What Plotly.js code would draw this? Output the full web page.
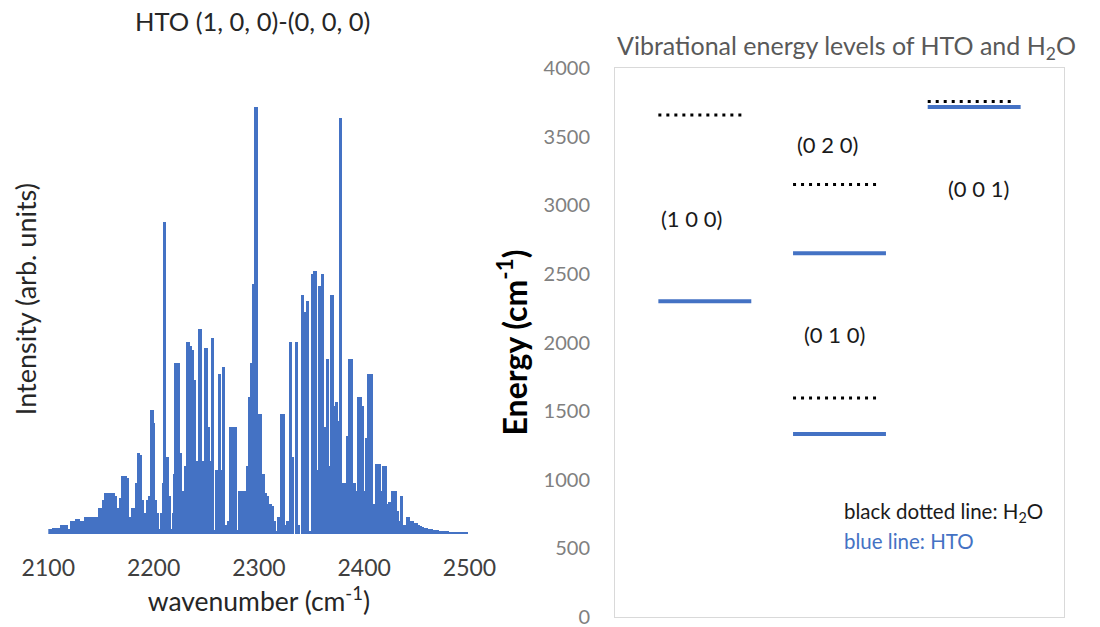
<!DOCTYPE html>
<html><head><meta charset="utf-8">
<script src="https://cdn.plot.ly/plotly-3.0.1.min.js"></script>
<style>html,body{margin:0;padding:0;background:#fff}#chart{width:1100px;height:627px}</style>
</head><body><div id="chart"></div>
<script>
// ---------- Left panel: HTO (1,0,0)-(0,0,0) stick spectrum ----------
const wavenumbers = [
2100.0,2101.8,2103.6,2105.4,2107.3,2109.2,2111.1,2113.0,2114.9,2116.8,2119.7,2122.0,2124.0,2126.4,2128.2,2130.1,2132.0,2133.9,2135.8,2137.7,
2139.6,2141.5,2143.2,2144.9,2146.8,2148.6,2150.5,2152.3,2154.0,2155.8,2157.8,2159.6,2161.5,2163.4,2165.2,2167.1,2169.0,2170.9,2172.8,2174.7,
2176.6,2178.5,2180.4,2182.3,2183.8,2185.5,2187.3,2189.1,2190.9,2192.8,2194.7,2196.6,2198.5,2200.2,2202.0,2204.0,2205.9,2207.8,2209.0,2210.4,
2212.7,2214.6,2216.5,2218.5,2219.6,2221.3,2223.2,2225.1,2227.0,2228.9,2230.8,2232.7,2234.6,2236.5,2238.4,2240.3,2242.2,2244.1,2246.2,2247.9,
2249.8,2251.7,2253.6,2255.7,2257.9,2260.2,2262.6,2264.5,2266.6,2268.7,2271.0,2273.5,2275.6,2277.6,2279.7,2281.8,2283.8,2285.8,2287.6,2289.2,
2291.0,2293.0,2295.2,2297.3,2299.3,2301.5,2303.9,2306.0,2308.3,2310.6,2312.7,2314.8,2316.9,2319.1,2321.2,2323.6,2325.8,2327.6,2330.3,2332.3,
2335.5,2338.0,2341.3,2343.6,2346.4,2348.9,2350.9,2353.2,2355.6,2358.0,2360.7,2362.8,2364.8,2367.1,2369.4,2371.8,2373.7,2375.6,2377.8,2379.9,
2381.8,2383.8,2386.3,2388.3,2390.3,2392.3,2394.6,2396.5,2398.2,2400.3,2402.6,2404.6,2406.5,2408.4,2410.3,2412.2,2414.1,2416.3,2418.6,2420.6,
2422.6,2424.5,2427.2,2429.2,2431.2,2433.2,2435.3,2437.3,2439.5,2441.6,2443.5,2445.4,2447.3,2449.5,2451.5,2453.5,2455.5,2457.5,2459.5,2461.5,
2463.5,2465.5,2467.5,2469.5,2471.5,2473.5,2475.5,2477.5,2479.5,2481.5,2483.5,2485.5,2487.5,2489.5,2491.5,2493.5,2495.5,2497.0
];
const intensities = [
0.012,0.012,0.012,0.013,0.015,0.015,0.012,0.02,0.02,0.02,0.012,0.03,0.03,0.035,0.035,0.025,0.03,0.03,0.04,0.04,
0.04,0.04,0.012,0.04,0.04,0.06,0.06,0.08,0.095,0.095,0.04,0.095,0.095,0.09,0.04,0.06,0.085,0.135,0.135,0.13,
0.04,0.02,0.06,0.06,0.12,0.19,0.185,0.08,0.05,0.02,0.08,0.09,0.29,0.26,0.08,0.05,0.012,0.05,0.12,0.73,
0.18,0.09,0.012,0.05,0.14,0.40,0.40,0.19,0.10,0.012,0.16,0.45,0.44,0.43,0.36,0.17,0.17,0.48,0.17,0.01,
0.435,0.25,0.17,0.46,0.01,0.15,0.375,0.15,0.39,0.02,0.03,0.25,0.25,0.25,0.01,0.10,0.10,0.10,0.10,0.16,
0.32,0.40,0.585,1.00,0.28,0.28,0.14,0.095,0.09,0.07,0.066,0.03,0.008,0.04,0.28,0.28,0.02,0.03,0.45,0.18,
0.45,0.02,0.56,0.52,0.545,0.008,0.61,0.615,0.15,0.58,0.61,0.25,0.41,0.16,0.56,0.30,0.31,0.265,0.975,0.12,
0.12,0.23,0.41,0.41,0.12,0.10,0.32,0.32,0.30,0.10,0.225,0.375,0.375,0.07,0.07,0.165,0.165,0.10,0.16,0.16,
0.07,0.075,0.10,0.10,0.055,0.03,0.09,0.02,0.02,0.04,0.03,0.03,0.025,0.025,0.02,0.018,0.017,0.015,0.013,0.012,
0.012,0.01,0.01,0.01,0.008,0.007,0.007,0.006,0.006,0.005,0.005,0.005,0.005,0.005,0.005,0.005,0.005,0.005
];
const wavenumberTicks = [2100, 2200, 2300, 2400, 2500];

// ---------- Right panel: vibrational energy levels ----------
const levelColumns   = [0, 1, 1, 2];          // column of each level
const h2oEnergies    = [3657, 3152, 1595, 3756];
const htoEnergies    = [2300, 2650, 1333, 3716];
const modeLabels     = ["(1 0 0)", "(0 2 0)", "(0 1 0)", "(0 0 1)"];
const energyTicks    = [0, 500, 1000, 1500, 2000, 2500, 3000, 3500, 4000];

// label placement (layout only)
const modeLabelPos = [{dx:-0.10, y:2900}, {dx:-0.09, y:3440}, {dx:-0.04, y:2060}, {dx:0.03, y:3120}];

const BLUE = '#4472C4';
function segs(energies, left, right) {
  const xs = [], ys = [];
  energies.forEach((e, i) => {
    const c = levelColumns[i];
    xs.push(c - left, c + right, null);
    ys.push(e, e, null);
  });
  return {xs, ys};
}
const hto = segs(htoEnergies, 0.345, 0.345);
const h2o = segs(h2oEnergies, 0.345, 0.30);

const traces = [
  {type:'bar', x: wavenumbers, y: intensities, width: 3.0,
   marker:{color: BLUE, line:{width:0}}, xaxis:'x', yaxis:'y', hoverinfo:'x+y'},
  {type:'scatter', mode:'lines', x: hto.xs, y: hto.ys, connectgaps:false,
   line:{color: BLUE, width:4}, xaxis:'x2', yaxis:'y2', name:'HTO'},
  {type:'scatter', mode:'lines', x: h2o.xs, y: h2o.ys, connectgaps:false,
   line:{color:'#000000', width:3, dash:'3px,5px'}, xaxis:'x2', yaxis:'y2', name:'H2O'}
];

const FONT = 'Lato, "Open Sans", sans-serif';
const annotations = [
  {text:'HTO (1, 0, 0)-(0, 0, 0)', xref:'paper', yref:'paper', x:252/1100, y:1-21/627,
   xanchor:'center', yanchor:'middle', showarrow:false, font:{size:25.5, color:'#262626', family:FONT}},
  {text:'Vibrational energy levels of HTO and H<sub>2</sub>O', xref:'paper', yref:'paper', x:846/1100, y:1-47/627,
   xanchor:'center', yanchor:'middle', showarrow:false, font:{size:25, color:'#595959', family:FONT}},
  {text:'black dotted line: H<sub>2</sub>O', xref:'paper', yref:'paper', x:842/1100, y:1-512/627,
   xanchor:'left', yanchor:'middle', showarrow:false, font:{size:20.5, color:'#1a1a1a', family:FONT}},
  {text:'blue line: HTO', xref:'paper', yref:'paper', x:842/1100, y:1-541/627,
   xanchor:'left', yanchor:'middle', showarrow:false, font:{size:20.5, color:BLUE, family:FONT}}
];
modeLabels.forEach((t, i) => {
  annotations.push({text:t, xref:'x2', yref:'y2', x: levelColumns[i] + modeLabelPos[i].dx, y: modeLabelPos[i].y,
    xanchor:'center', yanchor:'middle', showarrow:false, font:{size:22, color:'#1a1a1a', family:FONT}});
});

const layout = {
  width:1100, height:627, margin:{l:0, r:0, t:0, b:0},
  paper_bgcolor:'#ffffff', plot_bgcolor:'rgba(0,0,0,0)',
  showlegend:false, bargap:0,
  font:{family:FONT, color:'#262626'},
  xaxis:{domain:[48.3/1100, 469.5/1100], range:[2100, 2500], tickmode:'array', tickvals:wavenumberTicks,
    showgrid:false, zeroline:false, showline:false, ticks:'', ticklabelstandoff:18, ticklabeloverflow:'allow',
    tickfont:{size:23, color:'#404040'}, anchor:'y',
    title:{text:'wavenumber (cm<sup>-1</sup>)', font:{size:26.5, color:'#262626'}, standoff:12}},
  yaxis:{domain:[1-534/627, 1-64.3/627], range:[0, 1.1], showticklabels:false, showgrid:false,
    zeroline:false, showline:false, ticks:'', anchor:'x',
    title:{text:'Intensity (arb. units)', font:{size:27, color:'#262626'}, standoff:2}},
  xaxis2:{domain:[615/1100, 1064/1100], range:[-0.667, 2.667], showticklabels:false, showgrid:false,
    zeroline:false, showline:true, mirror:true, linecolor:'#d9d9d9', linewidth:1, ticks:'', anchor:'y2'},
  yaxis2:{domain:[1-617/627, 1-68/627], range:[0, 4000], tickmode:'array', tickvals:energyTicks,
    showgrid:false, zeroline:false, showline:true, mirror:true, linecolor:'#d9d9d9', linewidth:1,
    ticks:'', ticklabelstandoff:20, ticklabeloverflow:'allow', tickfont:{size:20, color:'#808080'}, anchor:'x2',
    title:{text:'<b>Energy (cm<sup>-1</sup>)</b>', font:{size:32, color:'#000000'}, standoff:6}},
  annotations: annotations
};

Plotly.newPlot('chart', traces, layout, {displayModeBar:false, staticPlot:true});
</script>
</body></html>
